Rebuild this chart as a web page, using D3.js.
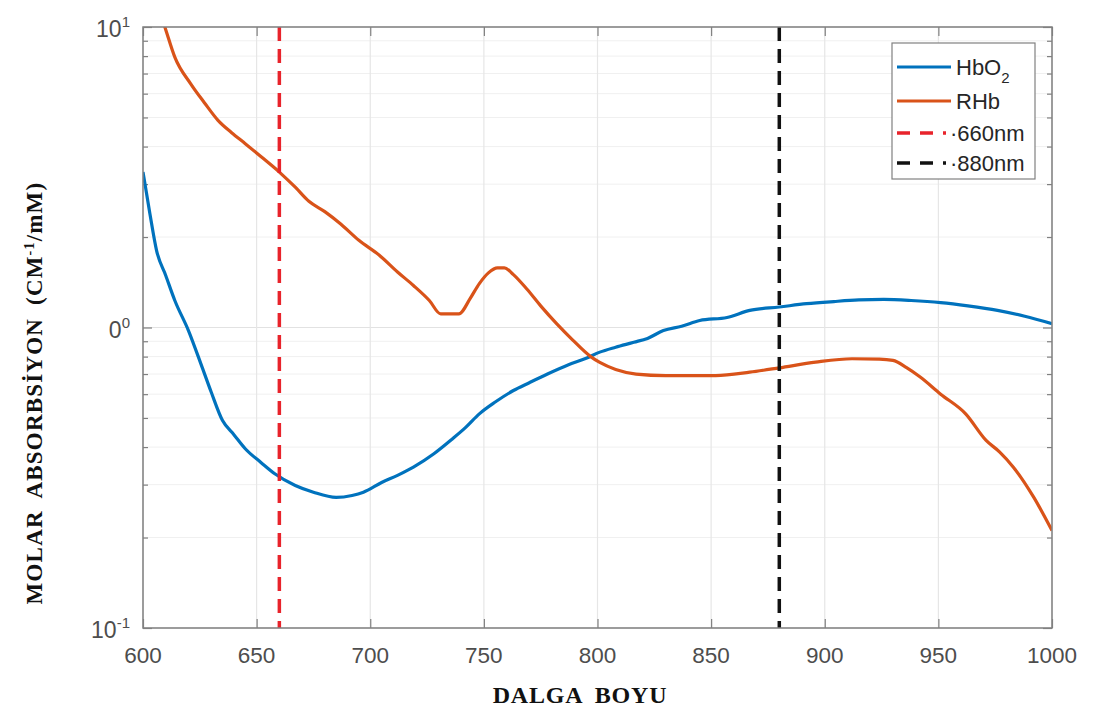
<!DOCTYPE html>
<html>
<head>
<meta charset="utf-8">
<script src="https://cdn.jsdelivr.net/npm/d3@7"></script>
<style>
  body { margin: 0; background: #fff; }
  svg { display: block; }
</style>
</head>
<body>
<div id="chart"></div>
<script>

  // Data
  var hbo2Nm = [600, 603, 606, 610, 614, 620, 626, 630, 635, 640, 645, 652, 658, 667, 675, 685, 692, 697, 705, 712, 719, 728, 736, 742, 748, 755, 763, 770, 778, 787, 795, 801, 808, 816, 822, 829, 837, 845, 857, 867, 880, 892, 904, 915, 926, 938, 951, 963, 976, 988, 1000];
  var hbo2Val = [3.29, 2.4, 1.80, 1.49, 1.23, 0.977, 0.738, 0.61, 0.49, 0.44, 0.395, 0.355, 0.326, 0.298, 0.283, 0.272, 0.276, 0.283, 0.305, 0.322, 0.343, 0.38, 0.425, 0.465, 0.516, 0.565, 0.617, 0.655, 0.70, 0.75, 0.79, 0.828, 0.86, 0.893, 0.92, 0.977, 1.01, 1.055, 1.08, 1.14, 1.17, 1.20, 1.22, 1.235, 1.24, 1.23, 1.21, 1.18, 1.14, 1.09, 1.03];

  var rhbNm = [600, 605, 610, 614, 621, 627, 633, 639, 645, 652, 660, 667, 673, 680, 687, 695, 704, 712, 719, 726, 731, 739, 744, 748, 752, 756, 759, 763, 769, 775, 782, 789, 797, 801, 808, 817, 830, 852, 867, 880, 896, 912, 924, 930, 936, 942, 951, 962, 971, 977, 983, 992, 1000];
  var rhbVal = [16.5, 12.8, 9.8, 7.94, 6.47, 5.6, 4.89, 4.45, 4.09, 3.7, 3.29, 2.93, 2.63, 2.43, 2.21, 1.95, 1.74, 1.53, 1.38, 1.23, 1.11, 1.11, 1.25, 1.40, 1.52, 1.58, 1.58, 1.50, 1.34, 1.18, 1.03, 0.91, 0.80, 0.765, 0.725, 0.70, 0.692, 0.692, 0.71, 0.734, 0.767, 0.787, 0.785, 0.777, 0.735, 0.684, 0.60, 0.516, 0.421, 0.385, 0.343, 0.272, 0.211];

  var markerNm = [660, 880];
  var xTicks = [600, 650, 700, 750, 800, 850, 900, 950, 1000];
  var yMajor = [0.1, 1, 10];
  var yTickBase = ['10', '0', '10'];
  var yTickExp = ['-1', '0', '1'];
  var legendLabels = ['HbO', 'RHb', '\u00b7660nm', '\u00b7880nm'];

  var options = {
    width: 1096,
    height: 710,
    left: 143,
    right: 1052,
    top: 27,
    bottom: 628,
    blue: '#0072BD',
    orange: '#D95319',
    red: '#e8232b',
    black: '#111',
    axisColor: '#808080',
    tickText: '#4d4d4d'
  };

  var svg = d3.select('#chart').append('svg')
    .attr('width', options.width)
    .attr('height', options.height);

  svg.append('rect').attr('width', options.width).attr('height', options.height).attr('fill', '#fff');

  var x = d3.scaleLinear().domain([600, 1000]).range([options.left, options.right]);
  var y = d3.scaleLog().domain([0.1, 10]).range([options.bottom, options.top]);

  var yMinor = [];
  [0.1, 1].forEach(function(b) {
    for (var k = 2; k <= 9; k++) yMinor.push(b * k);
  });

  /**************************************************
   * Grid                                           *
   **************************************************/

  var grid = svg.append('g');
  grid.selectAll('.hmin').data(yMinor).enter().append('line')
    .attr('x1', options.left).attr('x2', options.right)
    .attr('y1', function(d) { return y(d); }).attr('y2', function(d) { return y(d); })
    .attr('stroke', '#f0f0f0').attr('stroke-width', 1);
  grid.selectAll('.hmaj').data(yMajor).enter().append('line')
    .attr('x1', options.left).attr('x2', options.right)
    .attr('y1', function(d) { return y(d); }).attr('y2', function(d) { return y(d); })
    .attr('stroke', '#e2e2e2').attr('stroke-width', 1.2);
  grid.selectAll('.v').data(xTicks).enter().append('line')
    .attr('y1', options.top).attr('y2', options.bottom)
    .attr('x1', function(d) { return x(d); }).attr('x2', function(d) { return x(d); })
    .attr('stroke', '#e6e6e6').attr('stroke-width', 1.2);

  /**************************************************
   * Axes                                           *
   **************************************************/

  var axisG = svg.append('g');

  function styleAxis(g) {
    g.select('.domain').remove();
    g.selectAll('.tick line').attr('stroke', options.axisColor).attr('stroke-width', 1.2);
    g.selectAll('.tick text').remove();
  }

  axisG.append('g').attr('transform', 'translate(0,' + options.bottom + ')')
    .call(d3.axisTop(x).tickValues(xTicks).tickSize(9)).call(styleAxis);
  axisG.append('g').attr('transform', 'translate(0,' + options.top + ')')
    .call(d3.axisBottom(x).tickValues(xTicks).tickSize(9)).call(styleAxis);
  axisG.append('g').attr('transform', 'translate(' + options.left + ',0)')
    .call(d3.axisRight(y).tickValues(yMajor).tickSize(9)).call(styleAxis);
  axisG.append('g').attr('transform', 'translate(' + options.left + ',0)')
    .call(d3.axisRight(y).tickValues(yMinor).tickSize(5)).call(styleAxis);
  axisG.append('g').attr('transform', 'translate(' + options.right + ',0)')
    .call(d3.axisLeft(y).tickValues(yMajor).tickSize(9)).call(styleAxis);
  axisG.append('g').attr('transform', 'translate(' + options.right + ',0)')
    .call(d3.axisLeft(y).tickValues(yMinor).tickSize(5)).call(styleAxis);

  // x tick labels
  axisG.selectAll('.xl').data(xTicks).enter().append('text')
    .attr('x', function(d) { return x(d); })
    .attr('y', options.bottom + 35)
    .attr('text-anchor', 'middle')
    .attr('font-family', 'Liberation Sans, Arial, sans-serif')
    .attr('font-size', 22.5)
    .attr('fill', options.tickText)
    .text(function(d) { return d; });

  // y tick labels with exponents
  yMajor.forEach(function(v, i) {
    var t = axisG.append('text')
      .attr('x', 130)
      .attr('y', y(v) + 10)
      .attr('text-anchor', 'end')
      .attr('font-family', 'Liberation Sans, Arial, sans-serif')
      .attr('font-size', 23)
      .attr('fill', options.tickText);
    t.append('tspan').text(yTickBase[i]);
    t.append('tspan').attr('dy', -10).attr('font-size', 15).text(yTickExp[i]);
  });

  /**************************************************
   * Curves                                         *
   **************************************************/

  svg.append('clipPath').attr('id', 'plotClip').append('rect')
    .attr('x', options.left).attr('y', options.top)
    .attr('width', options.right - options.left).attr('height', options.bottom - options.top);

  var line = d3.line()
    .x(function(d) { return x(d[0]); })
    .y(function(d) { return y(d[1]); })
    .curve(d3.curveMonotoneX);

  var curves = svg.append('g').attr('clip-path', 'url(#plotClip)');

  curves.append('path')
    .datum(d3.zip(hbo2Nm, hbo2Val))
    .attr('d', line)
    .attr('fill', 'none').attr('stroke', options.blue).attr('stroke-width', 3.2);

  curves.append('path')
    .datum(d3.zip(rhbNm, rhbVal))
    .attr('d', line)
    .attr('fill', 'none').attr('stroke', options.orange).attr('stroke-width', 3.2);

  var markerColors = [options.red, options.black];
  curves.selectAll('.mk').data(markerNm).enter().append('line')
    .attr('x1', function(d) { return x(d); }).attr('x2', function(d) { return x(d); })
    .attr('y1', options.top).attr('y2', options.bottom)
    .attr('stroke', function(d, i) { return markerColors[i]; })
    .attr('stroke-width', 3.5)
    .attr('stroke-dasharray', '14,8');

  // plot box
  svg.append('rect')
    .attr('x', options.left).attr('y', options.top)
    .attr('width', options.right - options.left).attr('height', options.bottom - options.top)
    .attr('fill', 'none').attr('stroke', options.axisColor).attr('stroke-width', 1.5);

  /**************************************************
   * Legend                                         *
   **************************************************/

  var legend = svg.append('g');
  legend.append('rect')
    .attr('x', 892).attr('y', 43).attr('width', 143).attr('height', 136)
    .attr('fill', '#fff').attr('stroke', options.axisColor).attr('stroke-width', 1.2);

  var legendColors = [options.blue, options.orange, options.red, options.black];
  var legendRows = [67, 101, 133, 163];

  legendLabels.forEach(function(lbl, i) {
    var ln = legend.append('line')
      .attr('x1', 897).attr('x2', i < 2 ? 951 : 946)
      .attr('y1', legendRows[i]).attr('y2', legendRows[i])
      .attr('stroke', legendColors[i])
      .attr('stroke-width', i < 2 ? 3 : 3.5);
    if (i >= 2) ln.attr('stroke-dasharray', '13,10');

    var t = legend.append('text')
      .attr('x', i < 2 ? 956 : 950)
      .attr('y', legendRows[i] + 8)
      .attr('font-family', 'Liberation Sans, Arial, sans-serif')
      .attr('font-size', 22)
      .attr('fill', '#262626');
    t.append('tspan').text(lbl);
    if (i === 0) t.append('tspan').attr('dy', 8).attr('font-size', 15).text('2');
  });

  /**************************************************
   * Titles                                         *
   **************************************************/

  svg.append('text')
    .attr('x', 580).attr('y', 703)
    .attr('text-anchor', 'middle')
    .attr('font-family', 'Liberation Serif, Times New Roman, serif')
    .attr('font-weight', 'bold')
    .attr('font-size', 24)
    .attr('fill', '#111')
    .attr('letter-spacing', 0.8)
    .attr('word-spacing', 6)
    .text('DALGA BOYU');

  var yt = svg.append('text')
    .attr('transform', 'translate(42,393) rotate(-90)')
    .attr('text-anchor', 'middle')
    .attr('font-family', 'Liberation Serif, Times New Roman, serif')
    .attr('font-weight', 'bold')
    .attr('font-size', 23)
    .attr('fill', '#111')
    .attr('letter-spacing', 1.2)
    .attr('word-spacing', 6);
  yt.append('tspan').text('MOLAR ABSORBS\u0130YON  (CM');
  yt.append('tspan').attr('dy', -8).attr('font-size', 14).text('-1');
  yt.append('tspan').attr('dy', 8).text('/mM)');

</script>
</body>
</html>
